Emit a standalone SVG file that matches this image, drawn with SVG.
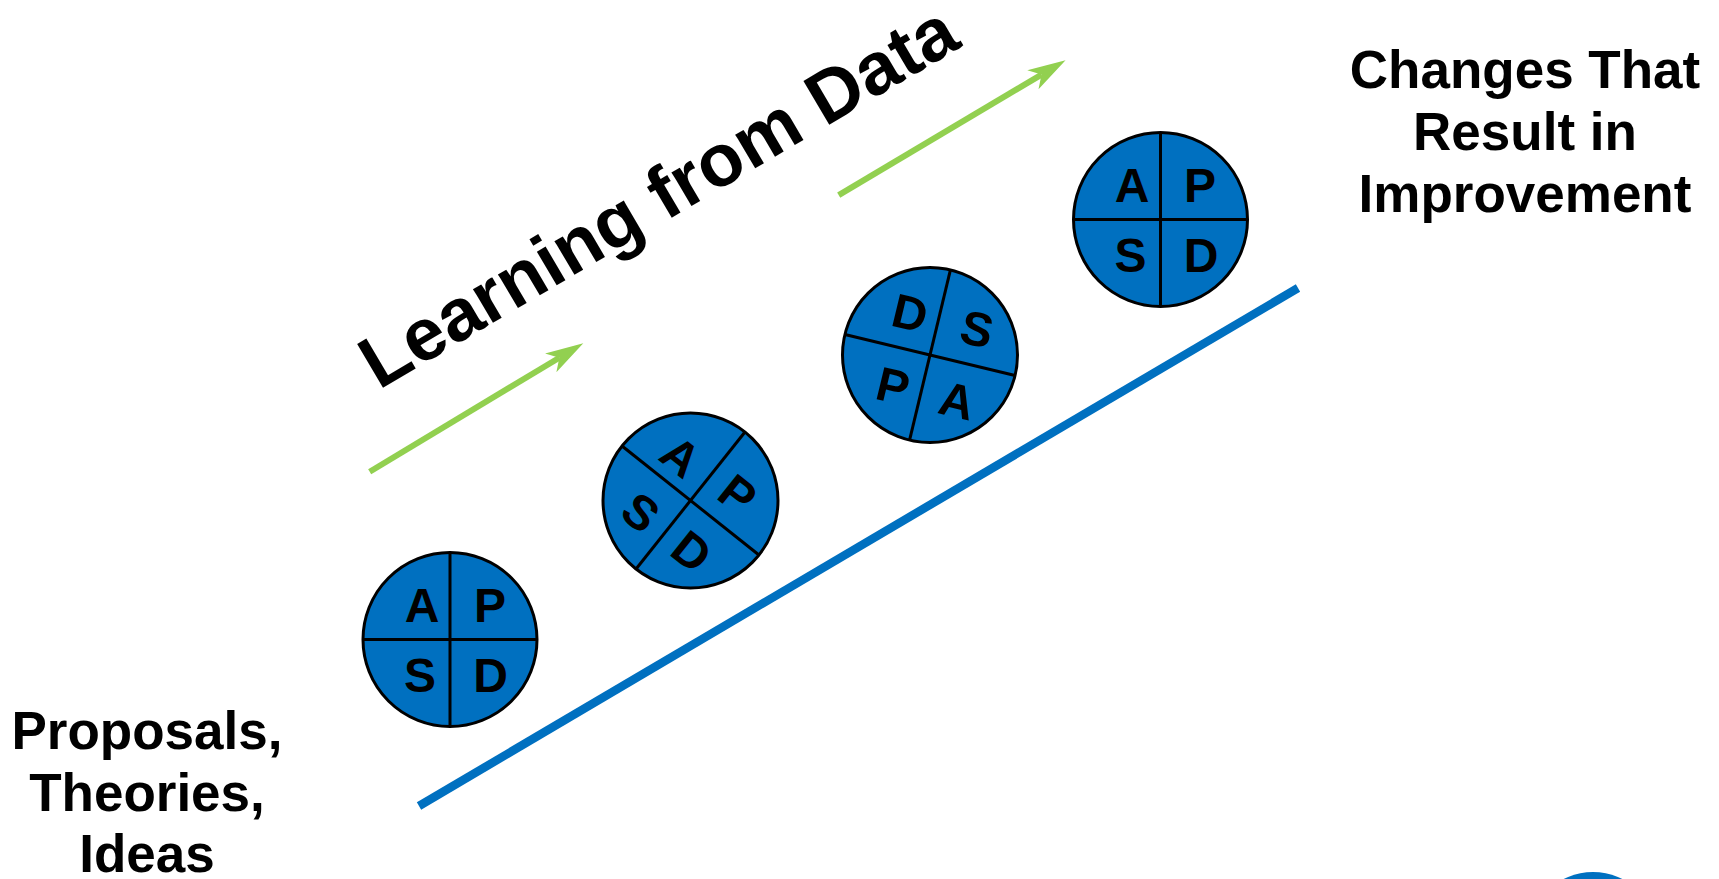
<svg xmlns="http://www.w3.org/2000/svg" width="1719" height="879" viewBox="0 0 1719 879">
<style>
.lbl{font-family:"Liberation Sans",Arial,sans-serif;font-weight:bold;fill:#000;text-anchor:middle}
.big{font-size:53px}
.ltr{font-size:48px}
.disc{fill:#0070C0;stroke:#000;stroke-width:3}
.div{stroke:#000;stroke-width:3}
.green{stroke:#92D050;stroke-width:6;fill:none}
</style>
<defs>
<marker id="ah" markerUnits="userSpaceOnUse" viewBox="-12 -13 42 26" markerWidth="42" markerHeight="26" refX="0" refY="0" orient="auto" overflow="visible">
<path d="M28,0 L-10,-11 L0,0 L-10,11 Z" fill="#92D050"/>
</marker>
</defs>
<rect width="1719" height="879" fill="#fff"/>
<g id="connectors">
<line x1="419" y1="806" x2="1298" y2="288" stroke="#0070C0" stroke-width="8.5"/>
<line class="green" x1="369.7" y1="471.7" x2="559.3" y2="357.7" marker-end="url(#ah)"/>
<line class="green" x1="838.7" y1="195.1" x2="1041.5" y2="74.6" marker-end="url(#ah)"/>
</g>
<g id="title">
<text class="lbl" font-size="74" transform="translate(671,218) rotate(-30.5)" x="0" y="0">Learning from Data</text>
</g>
<g id="start-label">
<text class="lbl big" x="147" y="749">Proposals,</text>
<text class="lbl big" x="147" y="810.5">Theories,</text>
<text class="lbl big" x="147" y="872">Ideas</text>
</g>
<g id="end-label">
<text class="lbl big" x="1525" y="88">Changes That</text>
<text class="lbl big" x="1525" y="150">Result in</text>
<text class="lbl big" x="1525" y="212">Improvement</text>
</g>
<g id="pdsa1">
<circle class="disc" cx="450" cy="639.5" r="87"/>
<line class="div" x1="363" y1="639.5" x2="537" y2="639.5"/>
<line class="div" x1="450" y1="552.5" x2="450" y2="726.5"/>
<text class="lbl ltr" x="422" y="621.7">A</text>
<text class="lbl ltr" x="490" y="621.7">P</text>
<text class="lbl ltr" x="420" y="692.2">S</text>
<text class="lbl ltr" x="490.5" y="692.2">D</text>
</g>
<g id="pdsa2">
<circle class="disc" cx="690.5" cy="500.5" r="87.5"/>
<g transform="rotate(38.5 690.5 500.5)">
<line class="div" x1="603" y1="500.5" x2="778" y2="500.5"/>
<line class="div" x1="690.5" y1="413" x2="690.5" y2="588"/>
</g>
<text class="lbl ltr" transform="translate(681,456) rotate(38.5)" y="17.2">A</text>
<text class="lbl ltr" transform="translate(738,494) rotate(38.5)" y="17.2">P</text>
<text class="lbl ltr" transform="translate(692,551) rotate(38.5)" y="17.2">D</text>
<text class="lbl ltr" transform="translate(641,512) rotate(38.5)" y="17.2">S</text>
</g>
<g id="pdsa3">
<circle class="disc" cx="930" cy="355" r="87.5"/>
<g transform="rotate(13.5 930 355)">
<line class="div" x1="842.5" y1="355" x2="1017.5" y2="355"/>
<line class="div" x1="930" y1="267.5" x2="930" y2="442.5"/>
</g>
<text class="lbl ltr" transform="translate(910,312.5) rotate(13.5)" y="17.2">D</text>
<text class="lbl ltr" transform="translate(977,328.5) rotate(13.5)" y="17.2">S</text>
<text class="lbl ltr" transform="translate(893,385.5) rotate(13.5)" y="17.2">P</text>
<text class="lbl ltr" transform="translate(957,400) rotate(13.5)" y="17.2">A</text>
</g>
<g id="pdsa4">
<circle class="disc" cx="1160.5" cy="219.5" r="87"/>
<line class="div" x1="1073.5" y1="219.5" x2="1247.5" y2="219.5"/>
<line class="div" x1="1160.5" y1="132.5" x2="1160.5" y2="306.5"/>
<text class="lbl ltr" x="1132" y="201.7">A</text>
<text class="lbl ltr" x="1200" y="201.7">P</text>
<text class="lbl ltr" x="1130.5" y="272.2">S</text>
<text class="lbl ltr" x="1201" y="272.2">D</text>
</g>
<g id="corner-badge">
<circle cx="1593" cy="937" r="65" fill="#0070C0"/>
</g>
</svg>
